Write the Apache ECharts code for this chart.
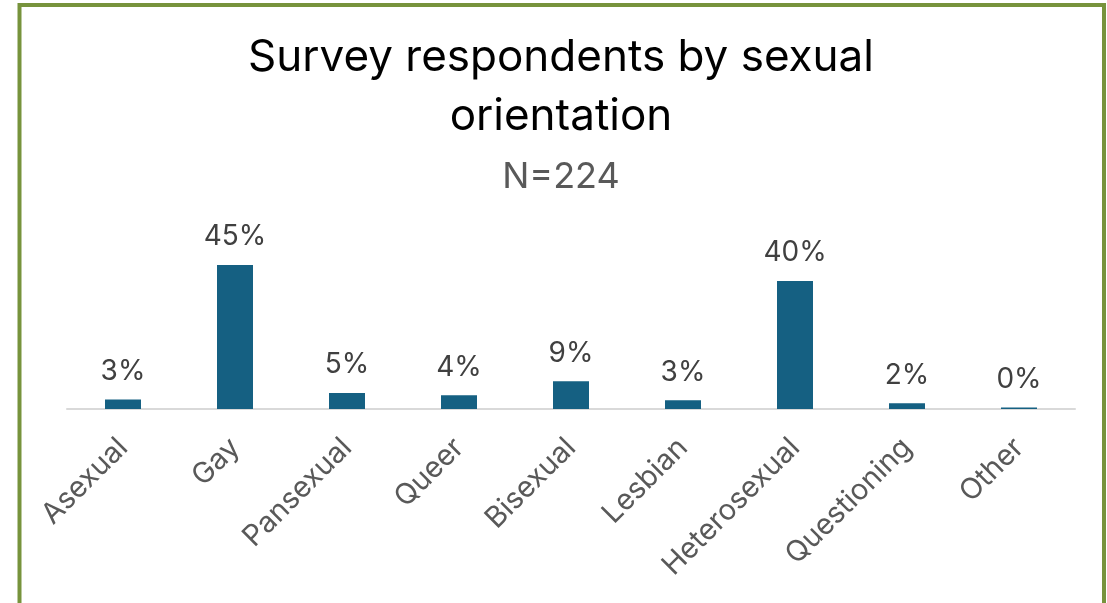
<!DOCTYPE html>
<html>
<head>
<meta charset="utf-8">
<title>Survey respondents by sexual orientation</title>
<script src="https://cdn.jsdelivr.net/npm/echarts@6/dist/echarts.min.js"></script>
<style>
  html, body { margin: 0; padding: 0; background: #ffffff; }
  #chart { width: 1107px; height: 603px; }
</style>
</head>
<body>
<div id="chart"></div>
<script>
// Share of respondents (%) per sexual orientation, N = 224
const categories = ['Asexual', 'Gay', 'Pansexual', 'Queer', 'Bisexual', 'Lesbian', 'Heterosexual', 'Questioning', 'Other'];
const percentValues = [3.0, 45.0, 5.0, 4.3, 8.7, 2.7, 40.0, 1.8, 0.45];
const titleLines = ['Survey respondents by sexual', 'orientation'];
const subtitleText = 'N=224';

const FONT = 'Inter, "Liberation Sans", Arial, sans-serif';

const chart = echarts.init(document.getElementById('chart'), null, { renderer: 'canvas' });

chart.setOption({
  backgroundColor: '#ffffff',
  animation: false,
  graphic: [{
    type: 'rect',
    silent: true,
    shape: { x: 19.5, y: 5, width: 1084.5, height: 700 },
    style: { fill: 'none', stroke: '#77933c', lineWidth: 4 }
  }],
  title: {
    text: titleLines.join('\n'),
    subtext: subtitleText,
    left: 556,
    textAlign: 'center',
    top: 23,
    itemGap: 10,
    textStyle: { fontFamily: FONT, fontSize: 44, fontWeight: 'normal', color: '#000000', lineHeight: 59 },
    subtextStyle: { fontFamily: FONT, fontSize: 36, color: '#595959', lineHeight: 42 }
  },
  grid: { left: 67, right: 32, top: 249, bottom: 194, containLabel: false },
  xAxis: {
    type: 'category',
    data: categories,
    axisLine: { show: true, lineStyle: { color: '#d9d9d9', width: 2 } },
    axisTick: { show: false },
    axisLabel: {
      interval: 0,
      rotate: 45,
      margin: 34,
      fontFamily: FONT,
      fontSize: 29,
      color: '#595959'
    }
  },
  yAxis: {
    type: 'value',
    min: 0,
    max: 50,
    show: false,
    splitLine: { show: false }
  },
  series: [{
    type: 'bar',
    data: percentValues,
    barWidth: 36,
    itemStyle: { color: '#156082' },
    label: {
      show: true,
      position: 'top',
      distance: 14,
      fontFamily: FONT,
      fontSize: 28,
      color: '#404040',
      formatter: p => Math.round(p.value) + '%'
    }
  }]
});
</script>
</body>
</html>
